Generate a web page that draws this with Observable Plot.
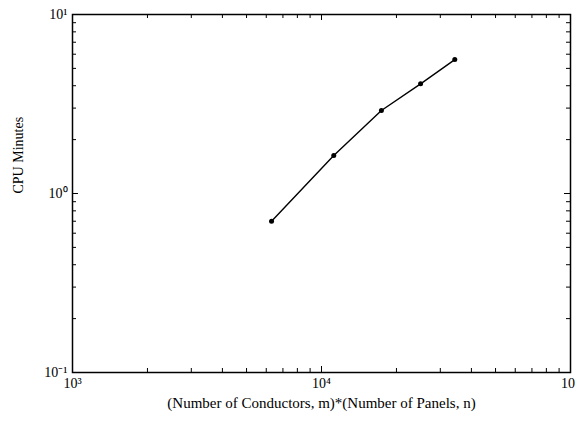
<!DOCTYPE html>
<html>
<head>
<meta charset="utf-8">
<script src="https://cdn.jsdelivr.net/npm/d3@7"></script>
<script src="https://cdn.jsdelivr.net/npm/@observablehq/plot@0.6"></script>
<style>
  html, body { margin: 0; padding: 0; background: #fff; }
</style>
</head>
<body>
<div id="chart"></div>
<script>
// Data
const mn = [6300, 11200, 17400, 25000, 34300];
const cpuMinutes = [0.70, 1.63, 2.91, 4.10, 5.6];

const xMajor = [1e3, 1e4, 1e5];
const yMajor = [0.1, 1, 10];
const xTickLabels = ["10³", "10⁴", "10⁵"];
const yTickLabels = ["10⁻¹", "10⁰", "10¹"];
const xTitle = "(Number of Conductors, m)*(Number of Panels, n)";
const yTitle = "CPU Minutes";

const data = mn.map((x, i) => ({x, y: cpuMinutes[i]}));

function minors(lo, hi) {
  const out = [];
  for (let d = lo; d < hi; d *= 10) for (let k = 2; k <= 9; k++) out.push(d * k);
  return out;
}
const xMinor = minors(1e3, 1e5);
const yMinor = minors(0.1, 10);

const font = "Liberation Serif, Times New Roman, serif";

const chart = Plot.plot({
  width: 575,
  height: 426,
  marginLeft: 72,
  marginRight: 5,
  marginTop: 14,
  marginBottom: 54,
  style: {fontFamily: font, fontSize: "12px", color: "#000", background: "#fff"},
  x: {type: "log", domain: [1e3, 1e5], axis: null},
  y: {type: "log", domain: [0.1, 10], axis: null},
  marks: [
    // tick labels
    Plot.axisX(xMajor, {anchor: "bottom", tickSize: 0, tickPadding: 6, fontSize: 14,
      tickFormat: (d) => xTickLabels[xMajor.indexOf(d)], label: null}),
    Plot.axisY(yMajor, {anchor: "left", tickSize: 0, tickPadding: 5, fontSize: 14,
      tickFormat: (d) => yTickLabels[yMajor.indexOf(d)], label: null}),
    // inward ticks: bottom & top
    Plot.ruleX(xMajor, {x: d => d, y1: 0.1, y2: 0.1, insetTop: -6, stroke: "#000", strokeWidth: 1}),
    Plot.ruleX(xMinor, {x: d => d, y1: 0.1, y2: 0.1, insetTop: -4, stroke: "#000", strokeWidth: 1}),
    Plot.ruleX(xMajor, {x: d => d, y1: 10, y2: 10, insetBottom: -6, stroke: "#000", strokeWidth: 1}),
    Plot.ruleX(xMinor, {x: d => d, y1: 10, y2: 10, insetBottom: -4, stroke: "#000", strokeWidth: 1}),
    // inward ticks: left & right
    Plot.ruleY(yMajor, {y: d => d, x1: 1e3, x2: 1e3, insetRight: -6, stroke: "#000", strokeWidth: 1}),
    Plot.ruleY(yMinor, {y: d => d, x1: 1e3, x2: 1e3, insetRight: -4, stroke: "#000", strokeWidth: 1}),
    Plot.ruleY(yMajor, {y: d => d, x1: 1e5, x2: 1e5, insetLeft: -6, stroke: "#000", strokeWidth: 1}),
    Plot.ruleY(yMinor, {y: d => d, x1: 1e5, x2: 1e5, insetLeft: -4, stroke: "#000", strokeWidth: 1}),
    Plot.frame({stroke: "#000", strokeWidth: 1.5}),
    // axis titles
    Plot.text([xTitle], {frameAnchor: "bottom", dy: 35, text: d => d, fontSize: 15, fill: "#000"}),
    Plot.text([yTitle], {frameAnchor: "left", dx: -54, rotate: -90, text: d => d, fontSize: 14, fill: "#000"}),
    // series
    Plot.line(data, {x: "x", y: "y", stroke: "#000", strokeWidth: 1.4}),
    Plot.dot(data, {x: "x", y: "y", r: 2.5, fill: "#000", stroke: null})
  ]
});
document.getElementById("chart").appendChild(chart);
</script>
</body>
</html>
